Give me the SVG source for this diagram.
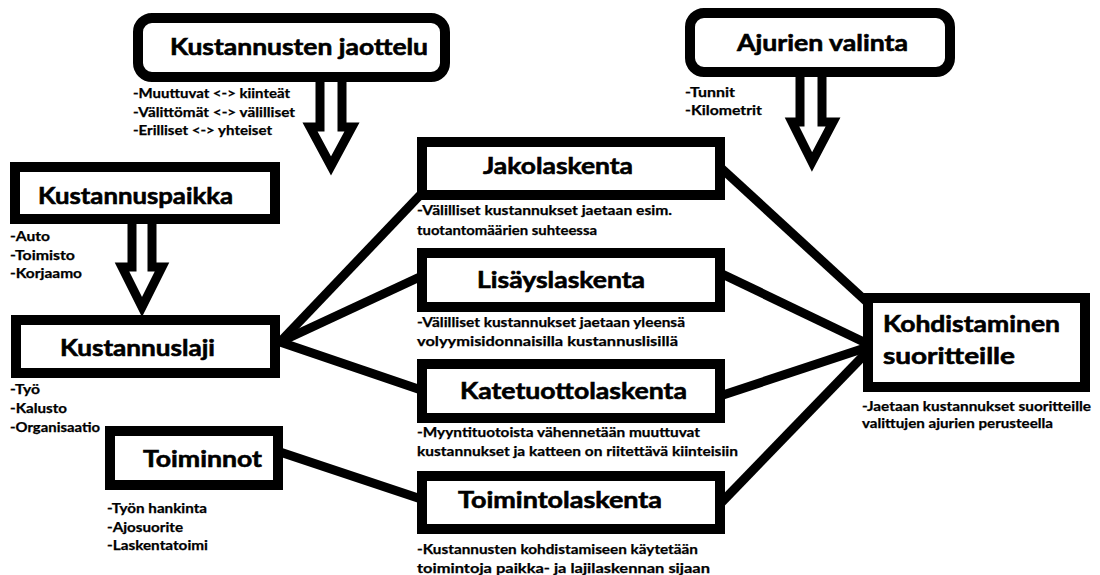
<svg xmlns="http://www.w3.org/2000/svg" width="1100" height="575" viewBox="0 0 1100 575">
<style>
.box{fill:#fff;stroke:#000;stroke-width:10}
.arr{fill:#fff;stroke:#000;stroke-width:9;stroke-linejoin:miter}
.con{stroke:#000;stroke-width:9;fill:none}
.t{font-family:Lato,"Liberation Sans",sans-serif;font-weight:bold;font-size:23px;fill:#000;stroke:#000;stroke-width:0.6}
.s{font-family:Lato,"Liberation Sans",sans-serif;font-weight:bold;font-size:13px;fill:#000;stroke:#000;stroke-width:0.25}
</style>
<rect width="1100" height="575" fill="#fff"/>
<g id="connectors">
<line class="con" x1="280" y1="342" x2="424" y2="191"/>
<line class="con" x1="280" y1="342" x2="424" y2="275"/>
<line class="con" x1="280" y1="342" x2="424" y2="391"/>
<line class="con" x1="280" y1="452" x2="424" y2="500"/>
<line class="con" x1="720" y1="167" x2="868" y2="303"/>
<line class="con" x1="720" y1="273" x2="868" y2="344"/>
<line class="con" x1="720" y1="396" x2="868" y2="347"/>
<line class="con" x1="720" y1="504" x2="868" y2="351"/>
</g>
<g id="arrow-jaottelu"><path class="arr" d="M320,80 L320,127 L310,127 L331,166 L352,127 L342,127 L342,80"/></g>
<g id="arrow-ajurit"><path class="arr" d="M800,75 L800,122 L792,122 L812,162 L833,122 L822,122 L822,75"/></g>
<g id="arrow-paikka"><path class="arr" d="M132,222 L132,267 L122,267 L142,307 L162,267 L152,267 L152,222"/></g>
<g id="kustannusten-jaottelu">
<rect class="box" x="138" y="18" width="307" height="59" rx="14"/>
<text class="t" x="170" y="55" textLength="258" lengthAdjust="spacingAndGlyphs">Kustannusten jaottelu</text>
<text class="s" x="133" y="98" textLength="157" lengthAdjust="spacingAndGlyphs">-Muuttuvat &lt;-&gt; kiinteät</text>
<text class="s" x="133" y="117" textLength="162" lengthAdjust="spacingAndGlyphs">-Välittömät &lt;-&gt; välilliset</text>
<text class="s" x="133" y="135" textLength="139" lengthAdjust="spacingAndGlyphs">-Erilliset &lt;-&gt; yhteiset</text>
</g>
<g id="ajurien-valinta">
<rect class="box" x="690" y="13" width="260" height="59" rx="14"/>
<text class="t" x="737" y="51" textLength="171" lengthAdjust="spacingAndGlyphs">Ajurien valinta</text>
<text class="s" x="685" y="97" textLength="50" lengthAdjust="spacingAndGlyphs">-Tunnit</text>
<text class="s" x="685" y="115" textLength="77" lengthAdjust="spacingAndGlyphs">-Kilometrit</text>
</g>
<g id="kustannuspaikka">
<rect class="box" x="15" y="167" width="260" height="52"/>
<text class="t" x="38" y="204" textLength="195" lengthAdjust="spacingAndGlyphs">Kustannuspaikka</text>
<text class="s" x="10" y="241" textLength="40" lengthAdjust="spacingAndGlyphs">-Auto</text>
<text class="s" x="10" y="260" textLength="65" lengthAdjust="spacingAndGlyphs">-Toimisto</text>
<text class="s" x="10" y="278" textLength="72" lengthAdjust="spacingAndGlyphs">-Korjaamo</text>
</g>
<g id="kustannuslaji">
<rect class="box" x="16" y="320" width="259" height="53"/>
<text class="t" x="60" y="356" textLength="155" lengthAdjust="spacingAndGlyphs">Kustannuslaji</text>
<text class="s" x="10" y="394" textLength="30" lengthAdjust="spacingAndGlyphs">-Työ</text>
<text class="s" x="10" y="413" textLength="57" lengthAdjust="spacingAndGlyphs">-Kalusto</text>
<text class="s" x="10" y="432" textLength="90" lengthAdjust="spacingAndGlyphs">-Organisaatio</text>
</g>
<g id="toiminnot">
<rect class="box" x="110" y="431" width="168" height="54"/>
<text class="t" x="143" y="467" textLength="119" lengthAdjust="spacingAndGlyphs">Toiminnot</text>
<text class="s" x="107" y="513" textLength="100" lengthAdjust="spacingAndGlyphs">-Työn hankinta</text>
<text class="s" x="107" y="532" textLength="76" lengthAdjust="spacingAndGlyphs">-Ajosuorite</text>
<text class="s" x="107" y="550" textLength="101" lengthAdjust="spacingAndGlyphs">-Laskentatoimi</text>
</g>
<g id="jakolaskenta">
<rect class="box" x="422" y="142" width="298" height="53"/>
<text class="t" x="483" y="174" textLength="150" lengthAdjust="spacingAndGlyphs">Jakolaskenta</text>
<text class="s" x="417" y="215" textLength="255" lengthAdjust="spacingAndGlyphs">-Välilliset kustannukset jaetaan esim.</text>
<text class="s" x="417" y="235" textLength="180" lengthAdjust="spacingAndGlyphs">tuotantomäärien suhteessa</text>
</g>
<g id="lisayslaskenta">
<rect class="box" x="422" y="253" width="298" height="54"/>
<text class="t" x="477" y="288" textLength="168" lengthAdjust="spacingAndGlyphs">Lisäyslaskenta</text>
<text class="s" x="417" y="327" textLength="268" lengthAdjust="spacingAndGlyphs">-Välilliset kustannukset jaetaan yleensä</text>
<text class="s" x="417" y="346" textLength="261" lengthAdjust="spacingAndGlyphs">volyymisidonnaisilla kustannuslisillä</text>
</g>
<g id="katetuottolaskenta">
<rect class="box" x="422" y="364" width="298" height="54"/>
<text class="t" x="460" y="399" textLength="227" lengthAdjust="spacingAndGlyphs">Katetuottolaskenta</text>
<text class="s" x="417" y="437" textLength="283" lengthAdjust="spacingAndGlyphs">-Myyntituotoista vähennetään muuttuvat</text>
<text class="s" x="417" y="456" textLength="321" lengthAdjust="spacingAndGlyphs">kustannukset ja katteen on riitettävä kiinteisiin</text>
</g>
<g id="toimintolaskenta">
<rect class="box" x="422" y="476" width="298" height="53"/>
<text class="t" x="458" y="508" textLength="204" lengthAdjust="spacingAndGlyphs">Toimintolaskenta</text>
<text class="s" x="417" y="554" textLength="281" lengthAdjust="spacingAndGlyphs">-Kustannusten kohdistamiseen käytetään</text>
<text class="s" x="417" y="573" textLength="293" lengthAdjust="spacingAndGlyphs">toimintoja paikka- ja lajilaskennan sijaan</text>
</g>
<g id="kohdistaminen">
<rect class="box" x="868" y="298" width="217" height="89"/>
<text class="t" x="883" y="332" textLength="177" lengthAdjust="spacingAndGlyphs">Kohdistaminen</text>
<text class="t" x="883" y="364" textLength="132" lengthAdjust="spacingAndGlyphs">suoritteille</text>
<text class="s" x="862" y="411" textLength="229" lengthAdjust="spacingAndGlyphs">-Jaetaan kustannukset suoritteille</text>
<text class="s" x="862" y="428" textLength="191" lengthAdjust="spacingAndGlyphs">valittujen ajurien perusteella</text>
</g>
</svg>
